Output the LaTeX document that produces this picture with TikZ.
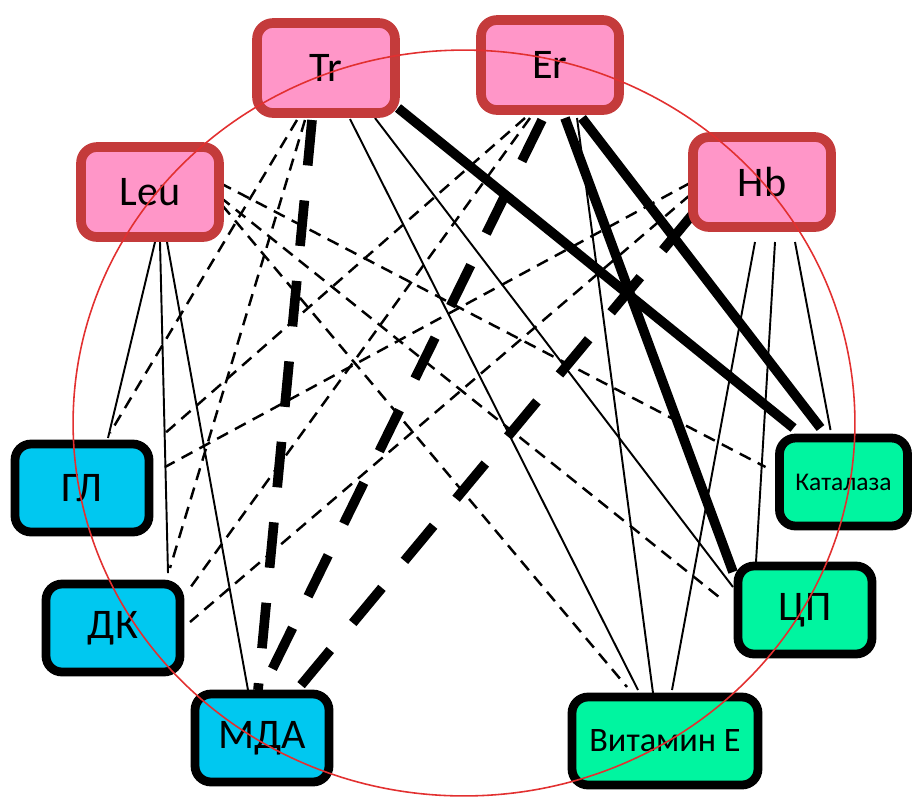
\documentclass[tikz,border=0pt]{standalone}
\usepackage{fontspec}
\setmainfont{Carlito}
\usepackage{tikz}
\usetikzlibrary{calc,backgrounds}

\definecolor{boxpink}{HTML}{FF96C8}
\definecolor{boxred}{HTML}{C43B3B}
\definecolor{boxblue}{HTML}{00C8F0}
\definecolor{boxgreen}{HTML}{00F5A0}
\definecolor{ringred}{HTML}{E23030}

\begin{document}
\begin{tikzpicture}[
    x=0.02cm, y=-0.02cm,
    box/.style={rectangle, rounded corners=0.32cm, minimum width=2.68cm, minimum height=1.76cm, inner sep=0pt, font=\fontsize{24}{28}\selectfont},
    redbox/.style={box, draw=boxred, fill=boxpink, line width=5.5pt, minimum width=2.76cm, minimum height=1.8cm},
    bluebox/.style={box, draw=black, fill=boxblue, line width=5pt},
    greenbox/.style={box, draw=black, fill=boxgreen, line width=5pt},
    thinln/.style={line width=1.1pt},
    dashln/.style={line width=1.4pt, dash pattern=on 7pt off 4.5pt},
    thickln/.style={line width=5.5pt},
    thickdash/.style={line width=5.5pt, dash pattern=on 26pt off 20pt}
]
    \useasboundingbox (0,0) rectangle (912,796);

    % top row
    \node[redbox] (Tr) at (326,68) {Tr};
    \node[redbox] (Er) at (550,65) {Er};
    \node[redbox] (Leu) at (150,192) {Leu};
    \node[redbox] (Hb) at (762,182) {Hb};

    % left side
    \node[bluebox] (GL) at (82,488) {ГЛ};
    \node[bluebox] (DK) at (113,628) {ДК};
    \node[bluebox] (MDA) at (262,738) {МДА};

    % right side
    \node[greenbox, minimum width=3.72cm, font=\fontsize{19.5}{22}\selectfont] (VitE) at (665,741) {Витамин Е};
    \node[greenbox] (CP) at (805,610) {ЦП};
    \node[greenbox, minimum width=2.56cm, font=\fontsize{14.5}{17}\selectfont] (Kat) at (843.5,482) {Каталаза};

    \begin{pgfonlayer}{background}
    % thin solid
    \foreach \a/\px/\py/\b/\qx/\qy in {Leu/5/50/GL/26/-50, Leu/10/50/DK/55/-55, Leu/17/50/MDA/-14/-48,
        Tr/24/51/VitE/-27/-51, Tr/49/50/CP/-72/-23, Er/27/53/VitE/-12/-48,
        Hb/-7/60/VitE/7/-51, Hb/13/60/CP/-49/-48, Hb/33/60/Kat/-13/-52}
        \draw[thinln] ($(\a)+(\px,\py)$) -- ($(\b)+(\qx,\qy)$);

    % thin dashed
    \foreach \a/\px/\py/\b/\qx/\qy in {Tr/-29/52/GL/28/-55, Tr/-21/52/DK/57/-60,
        Er/-25/53/GL/81/-53, Er/-20/53/DK/77/-40,
        Hb/-72/1/GL/83/-21, Hb/-72/13/DK/77/-6,
        Leu/70/-9/Kat/-78/-15, Leu/70/5/CP/-81/-9, Leu/72/13/VitE/-38/-54}
        \draw[dashln] ($(\a)+(\px,\py)$) -- ($(\b)+(\qx,\qy)$);

    % thick solid
    \foreach \a/\px/\py/\b/\qx/\qy in {Tr/72/40/Kat/-50/-54, Er/15/53/CP/-72/-38, Er/32/53/Kat/-23/-54}
        \draw[thickln] ($(\a)+(\px,\py)$) -- ($(\b)+(\qx,\qy)$);

    % thick dashed
    \foreach \a/\px/\py/\b/\qx/\qy in {Tr/-14/52/MDA/-4/-48, Er/-8/55/MDA/0/-48, Hb/-70/33/MDA/35/-48}
        \draw[thickdash] ($(\a)+(\px,\py)$) -- ($(\b)+(\qx,\qy)$);
    \end{pgfonlayer}

    % ring
    \draw[ringred, line width=0.9pt] (464,423) ellipse [x radius=7.82cm, y radius=7.46cm];
\end{tikzpicture}
\end{document}
